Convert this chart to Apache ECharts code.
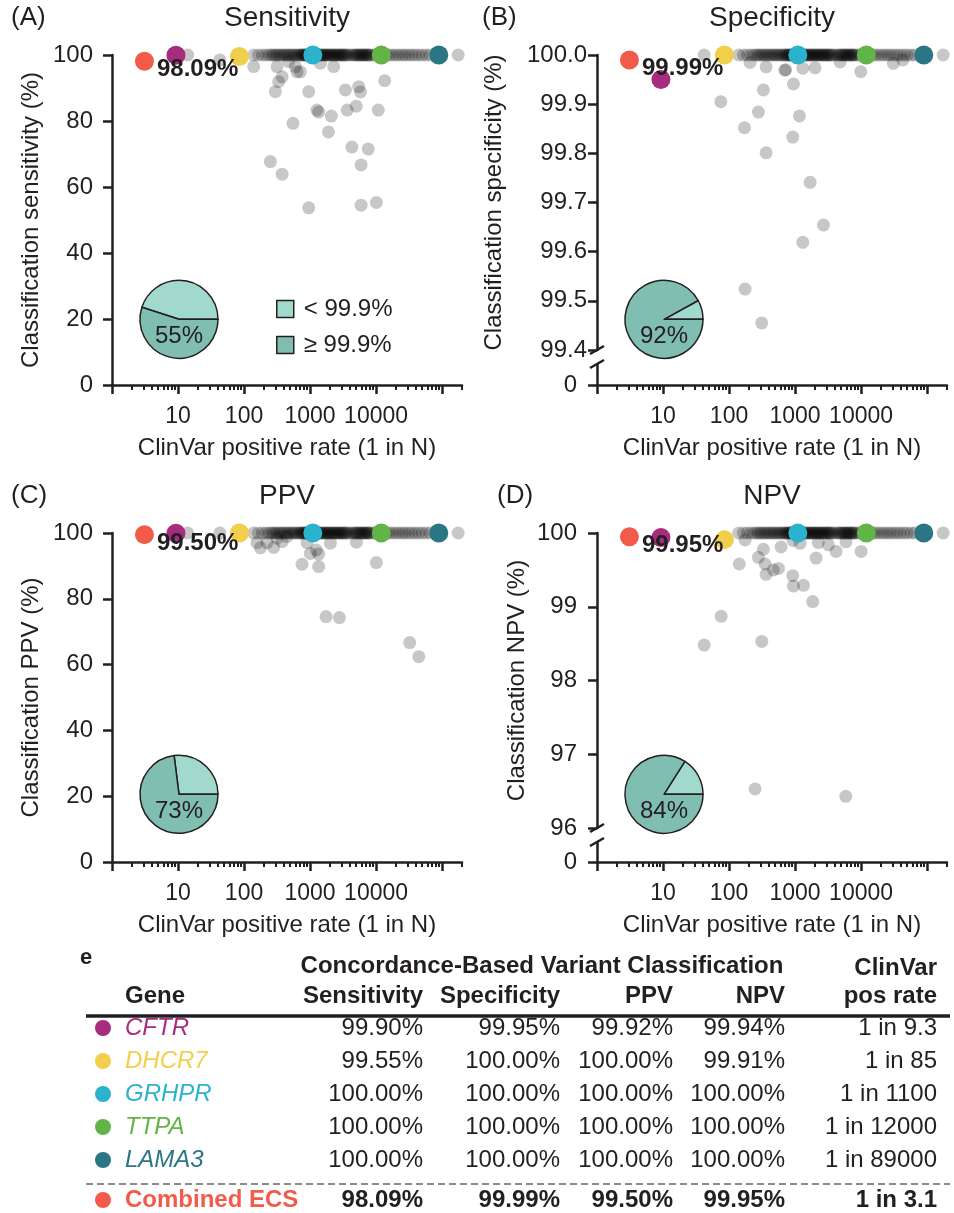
<!DOCTYPE html>
<html>
<head>
<meta charset="utf-8">
<title>ECS concordance</title>
<script src="https://cdn.jsdelivr.net/npm/echarts@6/dist/echarts.min.js"></script>
<style>
  html, body { margin: 0; padding: 0; background: #fff; }
  #main { width: 954px; height: 1213px; }
</style>
</head>
<body>
<div id="main"></div>
<script>
// highlighted genes (plots + table)
var genes = ['CFTR', 'DHCR7', 'GRHPR', 'TTPA', 'LAMA3'];
var geneColors = ['#a72b7e', '#f2cf4b', '#2bb2cd', '#63b446', '#2b7685'];
var geneRate = [9.3, 85, 1100, 12000, 89000];
var geneSens = [99.90, 99.55, 100, 100, 100];
var geneSpec = [99.95, 100, 100, 100, 100];
var genePpv = [99.92, 100, 100, 100, 100];
var geneNpv = [99.94, 99.91, 100, 100, 100];

var ecsName = 'Combined ECS';
var ecsColor = '#f25b4a';
var ecsRate = 3.1;
var ecsSens = 98.09, ecsSpec = 99.99, ecsPpv = 99.50, ecsNpv = 99.95;

// % of genes >= 99.9% (A, B, C, D)
var piePct = [55, 92, 73, 84];
var pieNames = ['< 99.9%', '\u2265 99.9%'];

// other genes sitting at 100% (ClinVar positive rate, 1 in N)
var band100 = [140, 165, 190, 215, 240,
  262, 281, 300, 322, 344, 368, 395, 421, 452, 478, 512, 546, 583, 617, 662,
  700, 728, 762, 795, 822, 858, 889, 925, 968, 1010, 1045, 1092, 1135, 1190, 1232, 1288,
  1345, 1398, 1465, 1530, 1586, 1660, 1725, 1810, 1875, 1965, 2048, 2150, 2225, 2340,
  2425, 2545, 2660, 2760, 2895, 3010, 3160, 3280, 3440, 3620, 3850, 4180, 4520, 4760,
  4980, 5230, 5500, 5720, 6000, 6230, 6530, 6790, 7120, 7390, 7720, 8050,
  8700, 9600, 10600, 12900, 14400, 16100, 17900, 20200, 22400, 25100, 27800, 31200,
  34800, 39100, 44200, 49800, 57100, 65200, 175000];

// other genes below 100% [rate, value]
var sensOther = [[14, 100], [43, 98.5], [140, 96.5], [316, 96.5], [474, 98], [598, 96.5],
  [713, 94.9], [1430, 97.5], [2280, 96.5], [334, 91.9], [298, 88.9], [377, 93.4], [635, 94.9],
  [953, 88.9], [3430, 89.4], [5450, 90.4], [5800, 88.8], [13500, 92.2],
  [1270, 83.3], [1350, 82.7], [2100, 81.5], [3650, 83.3], [5000, 84.5], [10800, 83.3],
  [550, 79.3], [1900, 76.7], [4300, 72.1], [7600, 71.5], [5930, 66.7], [250, 67.7], [377, 63.9],
  [953, 53.7], [5930, 54.5], [10100, 55.3]];
var specOther = [[42, 100], [208, 99.985], [364, 99.976], [700, 99.969], [720, 99.97],
  [1310, 99.973], [2010, 99.974], [4810, 99.986], [9890, 99.966], [30900, 99.983], [42900, 99.99],
  [75, 99.905], [331, 99.929], [944, 99.941], [278, 99.884], [1164, 99.876], [171, 99.852],
  [922, 99.833], [364, 99.801], [1690, 99.741], [2690, 99.654], [1310, 99.619],
  [175, 99.524], [313, 99.455]];
var ppvOther = [[14, 100], [43, 100], [157, 97.05], [177, 95.5], [281, 95.6], [377, 97.4],
  [223, 97.05], [316, 98.4], [447, 98.9], [900, 97.05], [2030, 96.9], [5030, 97.2],
  [1010, 93.8], [1350, 93.6], [1245, 94.8], [755, 90.5], [1350, 89.8], [10100, 91.0],
  [1745, 74.6], [2780, 74.3], [32300, 66.7], [44300, 62.4]];
var npvOther = [[175, 99.905], [331, 99.78], [278, 99.67], [351, 99.58], [470, 99.5],
  [559, 99.52], [364, 99.44], [143, 99.58], [614, 99.81], [1190, 99.86], [2250, 99.87],
  [3200, 99.84], [4180, 99.75], [10000, 99.75], [2080, 99.66], [922, 99.42], [944, 99.28],
  [1340, 99.29], [1850, 99.07], [76, 98.87], [42, 98.48], [313, 98.53], [248, 96.53],
  [5860, 96.43], [5900, 99.88], [930, 99.9]];

// x axis ticks
var majorTicks = [1, 10, 100, 1000, 10000, 100000];
var xLabels = [10, 100, 1000, 10000];
var minorTicks = [2, 3, 4, 5, 6, 7, 8, 9, 20, 30, 40, 50, 60, 70, 80, 90,
  200, 300, 400, 500, 600, 700, 800, 900, 2000, 3000, 4000, 5000, 6000, 7000, 8000, 9000,
  20000, 30000, 40000, 50000, 60000, 70000, 80000, 90000, 200000];

var font = '"Liberation Sans", Arial, Helvetica, sans-serif';
var ink = '#231f20';
var light = '#a1d9cd', dark = '#7fbeb1';

var panels = [
  {tag: '(A)', title: 'Sensitivity', yName: 'Classification sensitivity (%)', other: sensOther,
    gene: geneSens, ecs: ecsSens, left: 112, top: 55, h: 330, ymin: 0, ymax: 100, step: 20,
    dec: 0, margin: 19, nameGap: 69},
  {tag: '(B)', title: 'Specificity', yName: 'Classification specificity (%)', other: specOther,
    gene: geneSpec, ecs: ecsSpec, left: 597, top: 55, h: 295, ymin: 99.4, ymax: 100, step: 0.1,
    dec: 1, margin: 10, nameGap: 91, lowTop: 364, lowH: 21},
  {tag: '(C)', title: 'PPV', yName: 'Classification PPV (%)', other: ppvOther,
    gene: genePpv, ecs: ecsPpv, left: 112, top: 533, h: 329, ymin: 0, ymax: 100, step: 20,
    dec: 0, margin: 19, nameGap: 69},
  {tag: '(D)', title: 'NPV', yName: 'Classification NPV (%)', other: npvOther,
    gene: geneNpv, ecs: ecsNpv, left: 597, top: 533, h: 295, ymin: 96, ymax: 100, step: 1,
    dec: 0, margin: 20, nameGap: 68, lowTop: 842, lowH: 20}
];

function lineSt(w) { return {color: ink, width: w}; }
function txt(size, extra) {
  var o = {fontSize: size, color: ink, fontFamily: font};
  for (var k in extra) o[k] = extra[k];
  return o;
}

function xAxisVisible(gi) {
  return {
    type: 'log', logBase: 10, min: 1, max: 200000, gridIndex: gi, position: 'bottom',
    name: 'ClinVar positive rate (1 in N)', nameLocation: 'middle', nameGap: 51,
    nameTextStyle: txt(24),
    axisLine: {onZero: false, lineStyle: lineSt(2.5)},
    axisTick: {customValues: majorTicks, length: 9, lineStyle: lineSt(2.5)},
    axisLabel: txt(23, {customValues: xLabels, margin: 20, formatter: function (v) { return String(Math.round(v)); }}),
    splitLine: {show: false}
  };
}
function xAxisMinor(gi) {
  return {
    type: 'log', logBase: 10, min: 1, max: 200000, gridIndex: gi, position: 'bottom',
    axisLine: {show: false},
    axisTick: {customValues: minorTicks, length: 5, lineStyle: lineSt(2)},
    axisLabel: {show: false},
    splitLine: {show: false}
  };
}

var grids = [], xAxes = [], yAxes = [], series = [], graphics = [];

panels.forEach(function (p, i) {
  var gMain = grids.length;
  grids.push({left: p.left, top: p.top, width: 350, height: p.h});
  var xMain = xAxes.length;
  var yMain = yAxes.length;
  var broken = p.lowTop != null;

  if (!broken) {
    xAxes.push(xAxisVisible(gMain));
    xAxes.push(xAxisMinor(gMain));
  } else {
    xAxes.push({type: 'log', logBase: 10, min: 1, max: 200000, gridIndex: gMain, show: false});
  }

  yAxes.push({
    type: 'value', gridIndex: gMain, min: p.ymin, max: p.ymax, interval: p.step,
    name: p.yName, nameLocation: 'middle', nameGap: p.nameGap, nameTextStyle: txt(24),
    axisLine: {onZero: false, lineStyle: lineSt(2.5)},
    axisTick: {length: 9, lineStyle: lineSt(2.5)},
    axisLabel: txt(24, {margin: p.margin, formatter: function (v) { return v.toFixed(p.dec); }}),
    splitLine: {show: false}
  });

  if (broken) {
    // short segment below the axis break, carrying the 0 tick and the x axis
    var gLow = grids.length;
    grids.push({left: p.left, top: p.lowTop, width: 350, height: p.lowH});
    xAxes.push(xAxisVisible(gLow));
    xAxes.push(xAxisMinor(gLow));
    yAxes.push({
      type: 'value', gridIndex: gLow, min: 0, max: 1,
      axisLine: {onZero: false, lineStyle: lineSt(2.5)},
      axisTick: {customValues: [0], length: 9, lineStyle: lineSt(2.5)},
      axisLabel: txt(24, {customValues: [0], margin: 20, formatter: function () { return '0'; }}),
      splitLine: {show: false}
    });
    var yb = p.top + p.h, yl = p.lowTop;
    graphics.push({type: 'line', shape: {x1: p.left - 7, y1: yb + 4, x2: p.left + 7, y2: yb - 4}, style: {stroke: ink, lineWidth: 2.5}});
    graphics.push({type: 'line', shape: {x1: p.left - 7, y1: yl + 4, x2: p.left + 7, y2: yl - 4}, style: {stroke: ink, lineWidth: 2.5}});
  }

  var grey = band100.map(function (n) { return [n, 100]; }).concat(p.other);
  series.push({
    type: 'scatter', xAxisIndex: xMain, yAxisIndex: yMain, data: grey, symbolSize: 13,
    clip: false, silent: true, z: 2,
    itemStyle: {color: 'rgba(0,0,0,0.22)', opacity: 1}
  });
  series.push({
    type: 'scatter', xAxisIndex: xMain, yAxisIndex: yMain, symbolSize: 19, clip: false, silent: true, z: 3,
    itemStyle: {opacity: 1},
    data: genes.map(function (g, k) {
      return {name: g, value: [geneRate[k], p.gene[k]], itemStyle: {color: geneColors[k], opacity: 1}};
    })
  });
  series.push({
    type: 'scatter', xAxisIndex: xMain, yAxisIndex: yMain, symbolSize: 19, clip: false, silent: true, z: 4,
    data: [{name: ecsName, value: [ecsRate, p.ecs]}],
    itemStyle: {color: ecsColor, opacity: 1},
    label: txt(24, {show: true, position: [22, 6], fontWeight: 'bold', formatter: p.ecs.toFixed(2) + '%'})
  });

  // pie of genes above / below 99.9%
  var cx = p.left + 67, cy = p.top + (i < 2 ? 264.3 : 261.3);
  series.push({
    type: 'pie', center: [cx, cy], radius: 39, startAngle: 0, clockwise: false,
    silent: true, label: {show: false}, labelLine: {show: false}, z: 5,
    itemStyle: {borderColor: ink, borderWidth: 1.5},
    data: [
      {name: pieNames[0], value: 100 - piePct[i], itemStyle: {color: light}},
      {name: pieNames[1], value: piePct[i], itemStyle: {color: dark}}
    ]
  });
  graphics.push({type: 'text', z: 10, style: {text: piePct[i] + '%', x: cx, y: cy + 17,
    font: '24px ' + font, fill: ink, textAlign: 'center', textVerticalAlign: 'middle'}});

  // panel title and tag
  var ty = p.top - 37;
  graphics.push({type: 'text', style: {text: p.title, x: p.left + 175, y: ty,
    font: '28px ' + font, fill: ink, textAlign: 'center', textVerticalAlign: 'middle'}});
  graphics.push({type: 'text', style: {text: p.tag, x: i % 2 ? (i === 1 ? 482 : 497) : 11, y: ty,
    font: '26px ' + font, fill: ink, textAlign: 'left', textVerticalAlign: 'middle'}});
});

// ---- table (panel e) ----
var colRight = [423, 560, 673, 785, 937];
var rowY = [1028, 1061, 1094, 1127, 1160];
var headers = ['Sensitivity', 'Specificity', 'PPV', 'NPV'];

function tt(s, x, y, f, color, align) {
  graphics.push({type: 'text', style: {text: s, x: x, y: y, font: f, fill: color || ink,
    textAlign: align || 'left', textVerticalAlign: 'middle'}});
}
var reg = '24px ' + font, bold = 'bold 24px ' + font;
function pct(v) { return v.toFixed(2) + '%'; }

tt('e', 80, 958, 'bold 22px ' + font);
tt('Concordance-Based Variant Classification', 542, 966, bold, ink, 'center');
tt('ClinVar', 937, 968, bold, ink, 'right');
tt('pos rate', 937, 996, bold, ink, 'right');
tt('Gene', 125, 996, bold);
headers.forEach(function (h, k) { tt(h, colRight[k], 996, bold, ink, 'right'); });
graphics.push({type: 'line', shape: {x1: 86, y1: 1016, x2: 950, y2: 1016}, style: {stroke: ink, lineWidth: 3.5}});

genes.forEach(function (g, k) {
  var y = rowY[k];
  graphics.push({type: 'circle', shape: {cx: 103, cy: y, r: 8}, style: {fill: geneColors[k]}});
  tt(g, 125, y, 'italic ' + reg, geneColors[k]);
  [geneSens[k], geneSpec[k], genePpv[k], geneNpv[k]].forEach(function (v, c) {
    tt(pct(v), colRight[c], y, reg, ink, 'right');
  });
  tt('1 in ' + geneRate[k], colRight[4], y, reg, ink, 'right');
});
graphics.push({type: 'line', shape: {x1: 86, y1: 1184, x2: 950, y2: 1184},
  style: {stroke: '#8a8a8a', lineWidth: 2, lineDash: [7, 4]}});
graphics.push({type: 'circle', shape: {cx: 103, cy: 1200, r: 8}, style: {fill: ecsColor}});
tt(ecsName, 125, 1200, bold, ecsColor);
[ecsSens, ecsSpec, ecsPpv, ecsNpv].forEach(function (v, c) { tt(pct(v), colRight[c], 1200, bold, ink, 'right'); });
tt('1 in ' + ecsRate, colRight[4], 1200, bold, ink, 'right');

var chart = echarts.init(document.getElementById('main'));
chart.setOption({
  animation: false,
  backgroundColor: '#fff',
  textStyle: {fontFamily: font},
  grid: grids,
  xAxis: xAxes,
  yAxis: yAxes,
  legend: {
    data: pieNames, orient: 'vertical', left: 271, top: 292, itemWidth: 17, itemHeight: 17,
    itemGap: 12, icon: 'rect', selectedMode: false,
    itemStyle: {borderColor: ink, borderWidth: 1.5},
    textStyle: txt(24, {lineHeight: 22, padding: [0, 0, 0, 5]})
  },
  series: series,
  graphic: graphics
});
</script>
</body>
</html>
